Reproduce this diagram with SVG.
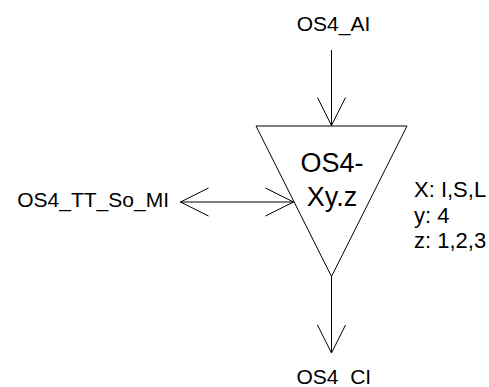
<svg xmlns="http://www.w3.org/2000/svg" width="489" height="387" viewBox="0 0 489 387">
<style>
.ln{stroke:#000;stroke-width:1;fill:none}
.t{font-family:"Liberation Sans",Arial,sans-serif;fill:#000}
.lbl{font-size:21px}
.big{font-size:27px}
.sm{font-size:22px}
</style>
<rect width="489" height="387" fill="#fff"/>
<g id="node-block">
<polygon class="ln" points="256,126 407,126 331.5,276.5"/>
<text class="t big" x="332" y="172" text-anchor="middle">OS4-</text>
<text class="t big" x="332" y="205.5" text-anchor="middle">Xy.z</text>
</g>
<g id="node-params">
<text class="t sm" x="414" y="197">X: I,S,L</text>
<text class="t sm" x="414" y="222.5">y: 4</text>
<text class="t sm" x="414" y="248">z: 1,2,3</text>
</g>
<g id="node-ai">
<text class="t lbl" x="333.5" y="31" text-anchor="middle">OS4_AI</text>
</g>
<g id="node-mi">
<text class="t lbl" x="169" y="207" text-anchor="end" font-size="22">OS4_TT_So_MI</text>
</g>
<g id="node-ci">
<text class="t lbl" x="296.5" y="383.5">OS4_CI</text>
</g>
<g id="connectors">
<path class="ln" d="M331.5,50 V126 M317.5,97.5 L331.5,125.5 L345.5,97.5"/>
<path class="ln" d="M331.5,276 V353 M317.5,325 L331.5,353 L345.5,325"/>
<path class="ln" d="M180,202 H293.5 M208.5,188 L180.5,202 L208.5,216 M265.5,188 L293.5,202 L265.5,216"/>
</g>
</svg>
